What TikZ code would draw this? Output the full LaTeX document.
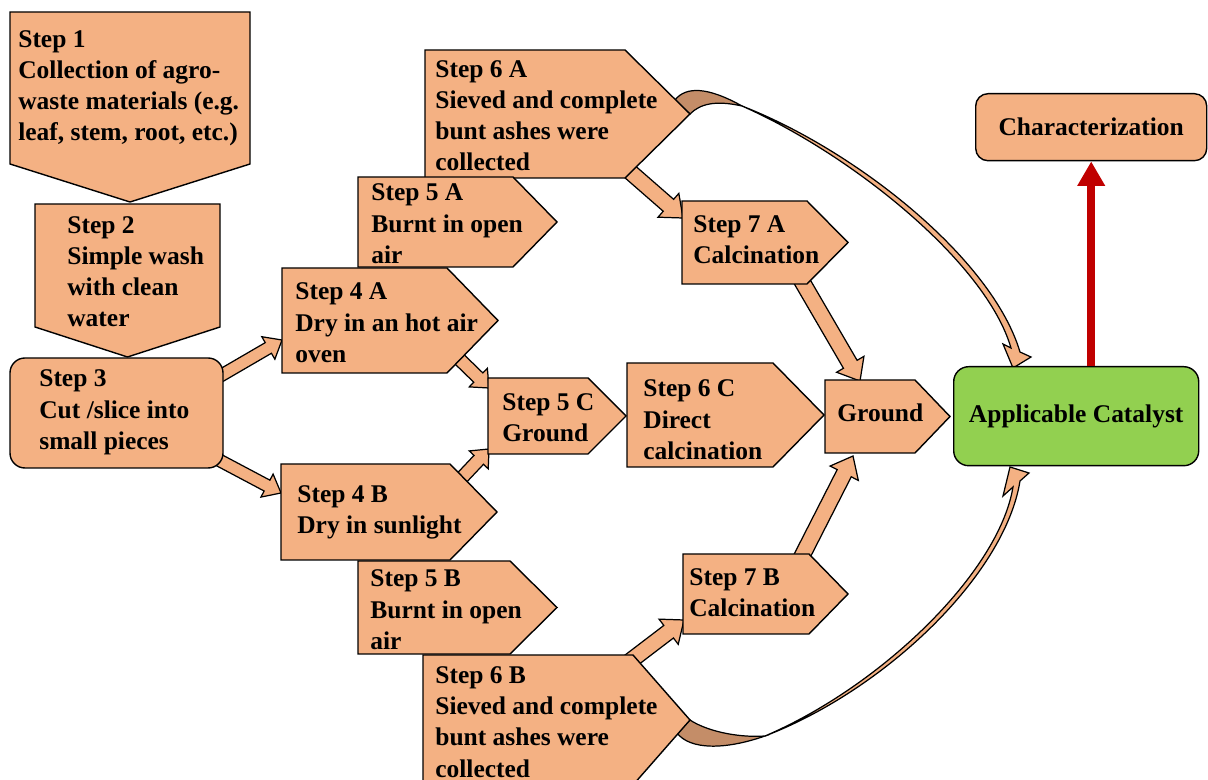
\documentclass[tikz,border=0pt]{standalone}
\usepackage{fontspec}
\setmainfont{Liberation Serif}
\usetikzlibrary{calc,arrows.meta}
\pgfdeclarelayer{bg}
\pgfsetlayers{bg,main}
\definecolor{org}{HTML}{F4B183}
\definecolor{grn}{HTML}{92D050}
\definecolor{dred}{HTML}{C00000}
\definecolor{backface}{HTML}{C48D68}
\tikzset{
  shp/.style={draw=black, fill=org, line width=0.8pt, line join=miter},
  frame/.style={inner sep=0pt, outer sep=0pt},
  txt/.style={font=\fontsize{14.5}{17.8}\selectfont\bfseries, align=left, inner sep=0pt, anchor=base west},
  barrow/.style={draw=black, fill=org, line width=0.7pt, line join=miter},
  ribbon/.style={draw=black, fill=org, line width=0.7pt, line join=miter},
  ribbonback/.style={draw=black, fill=backface, line width=0.7pt},
}
% right-pointing pentagon: name, left, top, rect end, bottom, tip x
\newcommand\rpent[6]{%
  \node[frame, minimum width={(#4-#2)*0.02cm}, minimum height={(#5-#3)*0.02cm}, anchor=north west] (#1) at (#2,#3) {};
  \coordinate (#1-tip) at (#6,{(#3+#5)/2});
  \draw[shp] (#1.north west) -- (#1.north east) -- (#1-tip) -- (#1.south east) -- (#1.south west) -- cycle;}
% down-pointing pentagon: name, left, top, right, side bottom, tip y
\newcommand\dpent[6]{%
  \node[frame, minimum width={(#4-#2)*0.02cm}, minimum height={(#5-#3)*0.02cm}, anchor=north west] (#1) at (#2,#3) {};
  \coordinate (#1-tip) at ({(#2+#4)/2},#6);
  \draw[shp] (#1.south west) -- (#1.north west) -- (#1.north east) -- (#1.south east) -- (#1-tip) -- cycle;}
% block arrow: start, end, shaft half width, head half width, head length
\newcommand\blockar[5]{%
  \draw[barrow] ($(#1)!#3!-90:(#2)$) -- ($(#2)!#5!(#1)!#3!90:(#1)$) -- ($(#2)!#5!(#1)!#4!90:(#1)$) -- (#2)
    -- ($(#2)!#5!(#1)!#4!-90:(#1)$) -- ($(#2)!#5!(#1)!#3!-90:(#1)$) -- ($(#1)!#3!90:(#2)$) -- cycle;}
\begin{document}
\begin{tikzpicture}[x=0.02cm,y=-0.02cm]
\useasboundingbox (0,0) rectangle (1208,780);

% ---------- shapes ----------
\dpent{s1}{10}{12}{250}{164}{202}
\dpent{s2}{35}{204}{220}{327}{357}
\node[shp, frame, rounded corners=8.5pt, minimum width={213*0.02cm}, minimum height={110*0.02cm}, anchor=north west] (s3) at (10,358) {};
\rpent{s6a}{425}{50}{625}{178}{690}
\rpent{s5a}{358}{177}{513}{267}{557}
\rpent{s4a}{282}{268}{447}{373}{498}
\rpent{s4b}{281}{464}{450}{560}{497}
\rpent{s5b}{358}{561}{510}{654}{557}
\rpent{s6b}{423}{655}{633}{785}{690}
\rpent{s5c}{488}{378}{588}{454}{626}
\rpent{s6c}{627}{363}{773}{467}{824}
\rpent{s7a}{682}{201}{807}{284}{848}
\rpent{s7b}{683}{554}{809}{634}{848}
\rpent{gr}{825}{380}{915}{453}{950}
\node[draw=black, fill=grn, line width=0.8pt, rounded corners=8.5pt, inner sep=0pt,
      minimum width={245*0.02cm}, minimum height={99*0.02cm}, anchor=north west,
      font=\fontsize{14.5}{17.8}\selectfont\bfseries] (cat) at (953,366) {Applicable Catalyst};
\node[shp, rounded corners=7pt, inner sep=0pt,
      minimum width={231*0.02cm}, minimum height={67*0.02cm}, anchor=north west,
      font=\fontsize{14.5}{17.8}\selectfont\bfseries] (char) at (975,93) {Characterization};

% ---------- texts (anchored at the baseline of their last line) ----------
\node[txt] (s1t) at (18,141) {Step 1\\Collection of agro-\\waste materials (e.g.\\leaf, stem, root, etc.)};
\node[txt] (s2t) at (67,327) {Step 2\\Simple wash\\with clean\\water};
\node[txt] (s3t) at (39,449.5) {Step 3\\Cut /slice into\\small pieces};
\node[txt] (s4at) at (295,362.5) {Step 4 A\\Dry in an hot air\\oven};
\node[txt] (s4bt) at (297,533.3) {Step 4 B\\Dry in sunlight};
\node[txt] (s5at) at (371,263.5) {Step 5 A\\Burnt in open\\air};
\node[txt] (s5bt) at (370,649.5) {Step 5 B\\Burnt in open\\air};
\node[txt] (s6at) at (435,171) {Step 6 A\\Sieved and complete\\bunt ashes were\\collected};
\node[txt] (s6bt) at (435,777) {Step 6 B\\Sieved and complete\\bunt ashes were\\collected};
\node[txt] (s5ct) at (502,441.3) {Step 5 C\\Ground};
\node[txt] (s6ct) at (643,459.5) {Step 6 C\\Direct\\calcination};
\node[txt] (s7at) at (693,263.3) {Step 7 A\\Calcination};
\node[txt] (s7bt) at (689,616.3) {Step 7 B\\Calcination};
\node[txt] (grt) at (837,422) {Ground};

% ---------- connectors (behind) ----------
\begin{pgfonlayer}{bg}
\coordinate (a1s) at ($(s3.north east)+(-8,21)$);
\coordinate (a1e) at ($(s4a.west)+(0,19.5)$);
\coordinate (a2s) at ($(s3.south east)+(-8,-10)$);
\coordinate (a2e) at ($(s4b.west)+(0,-19)$);
\coordinate (a3s) at ($(s4a.south east)+(5,-21)$);
\coordinate (a3e) at ($(s5c.west)+(1,-28)$);
\coordinate (a4s) at ($(s4b.north east)+(5,21)$);
\coordinate (a4e) at ($(s5c.west)+(1,33)$);
\coordinate (a5s) at ($(s6a.south east)+(3,-8)$);
\coordinate (a5e) at ($(s7a.west)+(1,-24.5)$);
\coordinate (a6s) at ($(s7a.south east)+(-7,-6)$);
\coordinate (a6e) at ($(gr.north west)+(35,1)$);
\coordinate (a7s) at ($(s6b.north east)+(-8,10)$);
\coordinate (a7e) at ($(s7b.west)+(1,26)$);
\coordinate (a8s) at ($(s7b.north east)+(-9,6)$);
\coordinate (a8e) at ($(gr.south west)+(28,3)$);
\blockar{a1s}{a1e}{3.5pt}{7.4pt}{9pt}
\blockar{a2s}{a2e}{3.5pt}{7.4pt}{9pt}
\blockar{a3s}{a3e}{3.7pt}{7.4pt}{8.5pt}
\blockar{a4s}{a4e}{3.7pt}{7.4pt}{8.5pt}
\blockar{a5s}{a5e}{4.5pt}{9pt}{11pt}
\blockar{a6s}{a6e}{4.5pt}{9pt}{11pt}
\blockar{a7s}{a7e}{4.5pt}{9pt}{11pt}
\blockar{a8s}{a8e}{4.5pt}{9pt}{11pt}

% upper curved ribbon arrow: Step 6 A -> Applicable Catalyst
\coordinate (r1a) at (675,100);
\coordinate (r1t) at (742,106);
\draw[ribbonback] (r1a) .. controls (686,86) and (708,87) .. (r1t)
   .. controls (715,100) and (700,104) .. (s6a-tip) -- cycle;
\draw[ribbon] (r1t) .. controls (855,150) and (992,258) .. (1020,352)
   -- (1031,357) -- (1013,368) -- (1003,344) -- (1011,348)
   .. controls (986,262) and (851,154) .. (r1t) -- cycle;

% lower curved ribbon arrow: Step 6 B -> Applicable Catalyst
\coordinate (r2a) at (677,733);
\coordinate (r2t) at (765,736);
\draw[ribbonback] (r2a) .. controls (690,750) and (725,750) .. (r2t)
   .. controls (735,738) and (705,730) .. (s6b-tip) -- cycle;
\draw[ribbon] (r2t) .. controls (885,690) and (1005,575) .. (1020,481)
   -- (1029,473) -- (1010,467) -- (1003,496) -- (1013,487)
   .. controls (999,572) and (882,686) .. (r2t) -- cycle;
\end{pgfonlayer}

% red arrow
\draw[dred, line width=4.6pt, -{Triangle[length=14pt,width=15pt]}] (char.south |- cat.north) -- (char.south);
\end{tikzpicture}
\end{document}
